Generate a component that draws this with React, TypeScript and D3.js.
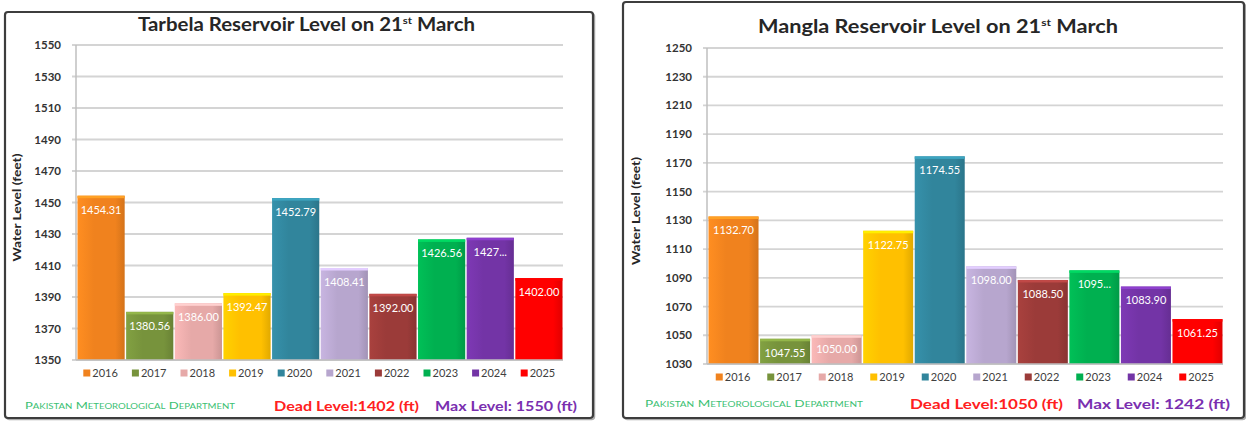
import React from "react";
import * as d3 from "d3";

const years = ["2016", "2017", "2018", "2019", "2020", "2021", "2022", "2023", "2024", "2025"];
const barColors = ["#F0821E", "#77933C", "#E6A9A8", "#FFC000", "#31859C", "#B7A6CE", "#9B3B39", "#00B050", "#7334A6", "#FF0000"];

const tarbelaValues = [1454.31, 1380.56, 1386.0, 1392.47, 1452.79, 1408.41, 1392.0, 1426.56, 1427.6, 1402.0];
const tarbelaLabels = ["1454.31", "1380.56", "1386.00", "1392.47", "1452.79", "1408.41", "1392.00", "1426.56", "1427...", "1402.00"];
const tarbelaTicks = [1350, 1370, 1390, 1410, 1430, 1450, 1470, 1490, 1510, 1530, 1550];

const manglaValues = [1132.7, 1047.55, 1050.0, 1122.75, 1174.55, 1098.0, 1088.5, 1095.2, 1083.9, 1061.25];
const manglaLabels = ["1132.70", "1047.55", "1050.00", "1122.75", "1174.55", "1098.00", "1088.50", "1095...", "1083.90", "1061.25"];
const manglaTicks = [1030, 1050, 1070, 1090, 1110, 1130, 1150, 1170, 1190, 1210, 1230, 1250];

const FONT = "Lato, 'Open Sans', sans-serif";

type PanelProps = {
  id: string;
  box: [number, number, number, number];
  title: string;
  titleX: [number, number];
  titleY: number;
  values: number[];
  labels: string[];
  ticks: number[];
  plotX: [number, number];
  plotY: [number, number];
  legendY: number;
  axisTitleX: number;
  footerY: number;
  credit: [number, number];
  dead: string;
  deadX: [number, number];
  max: string;
  maxX: [number, number];
};

function Panel(p: PanelProps) {
  const [bx0, by0, bx1, by1] = p.box;
  const x = d3.scaleBand<string>().domain(years).range(p.plotX).paddingInner(0.03).paddingOuter(0.01);
  const y = d3.scaleLinear().domain([p.ticks[0], p.ticks[p.ticks.length - 1]]).range(p.plotY);
  const bottom = y(p.ticks[0]);
  const plotW = p.plotX[1] - p.plotX[0];
  const step = plotW / years.length;
  const itemW = 36;
  const legendStart = p.plotX[0] + (plotW - (step * (years.length - 1) + itemW)) / 2;
  const axisCenter = (p.plotY[0] + p.plotY[1]) / 2 + 5;
  return (
    <g>
      <defs>
        {barColors.map((c, i) => {
          const col = d3.color(c)!;
          return (
            <linearGradient key={i} id={`${p.id}-g${i}`} x1="0" x2="1" y1="0" y2="0">
              <stop offset="0" stopColor={col.brighter(0.25).formatHex()} />
              <stop offset="0.35" stopColor={c} />
              <stop offset="0.8" stopColor={c} />
              <stop offset="1" stopColor={col.darker(0.35).formatHex()} />
            </linearGradient>
          );
        })}
      </defs>
      <rect x={bx0 + 1.5} y={by0 + 1.5} width={bx1 - bx0} height={by1 - by0} rx={3} fill="none" stroke="#aaa" strokeWidth={1.5} />
      <rect x={bx0} y={by0} width={bx1 - bx0} height={by1 - by0} rx={3} fill="#fff" stroke="#3d3d3d" strokeWidth={2.2} />
      {/* title */}
      <text
        x={p.titleX[0]}
        y={p.titleY}
        fontFamily={FONT}
        fontWeight={700}
        fontSize={18}
        fill="#262626"
        textLength={p.titleX[1] - p.titleX[0]}
        lengthAdjust="spacingAndGlyphs"
      >
        {p.title}
        <tspan fontSize={10} dy={-7}>st</tspan>
        <tspan dy={7}> March</tspan>
      </text>
      {/* grid */}
      {p.ticks.map((t) => (
        <g key={t}>
          <line x1={p.plotX[0] - 5} x2={p.plotX[1]} y1={y(t)} y2={y(t)} stroke="#d4d4d4" strokeWidth={1.8} />
          <text x={p.plotX[0] - 16} y={y(t)} dy="0.35em" textAnchor="end" fontFamily={FONT} fontWeight={700} fontSize={11.5} fill="#333">
            {t}
          </text>
        </g>
      ))}
      <line x1={p.plotX[0] - 1} x2={p.plotX[0] - 1} y1={p.plotY[1]} y2={bottom} stroke="#bfbfbf" strokeWidth={1.5} />
      {/* axis title */}
      <text
        transform={`translate(${p.axisTitleX},${axisCenter}) rotate(-90)`}
        textAnchor="middle"
        fontFamily={FONT}
        fontWeight={700}
        fontSize={11}
        fill="#262626"
        textLength={108}
        lengthAdjust="spacingAndGlyphs"
      >
        Water Level  (feet)
      </text>
      {/* bars */}
      {years.map((yr, i) => {
        const bx = x(yr)!;
        const top = y(p.values[i]);
        const col = d3.color(barColors[i])!;
        return (
          <g key={yr}>
            <rect x={bx} y={top} width={x.bandwidth()} height={bottom - top} fill={`url(#${p.id}-g${i})`} />
            <rect x={bx} y={top} width={x.bandwidth()} height={2.5} fill={col.brighter(0.6).formatHex()} />
            <text
              x={bx + x.bandwidth() / 2}
              y={top + 14}
              dy="0.35em"
              textAnchor="middle"
              fontFamily={FONT}
              fontSize={11}
              fill="#fff"
            >
              {p.labels[i]}
            </text>
          </g>
        );
      })}
      <line x1={p.plotX[0] - 1} x2={p.plotX[1]} y1={bottom} y2={bottom} stroke="#bfbfbf" strokeWidth={1.5} />
      {/* legend */}
      {years.map((yr, i) => {
        const lx = legendStart + i * step;
        return (
          <g key={yr}>
            <rect x={lx} y={p.legendY - 3.5} width={7} height={7} fill={barColors[i]} />
            <text x={lx + 9} y={p.legendY} dy="0.35em" fontFamily={FONT} fontSize={11} fill="#404040">
              {yr}
            </text>
          </g>
        );
      })}
      {/* footer */}
      <text
        x={p.credit[0]}
        y={p.footerY}
        dy="0.35em"
        fontFamily={FONT}
        fontSize={9.5}
        fill="#3cbf73"
        textLength={p.credit[1] - p.credit[0]}
        lengthAdjust="spacingAndGlyphs"
        style={{ fontVariant: "small-caps" }}
      >
        Pakistan Meteorological Department
      </text>
      <text
        x={p.deadX[0]}
        y={p.footerY}
        dy="0.35em"
        fontFamily={FONT}
        fontWeight={700}
        fontSize={14}
        fill="#ff2020"
        textLength={p.deadX[1] - p.deadX[0]}
        lengthAdjust="spacingAndGlyphs"
      >
        {p.dead}
      </text>
      <text
        x={p.maxX[0]}
        y={p.footerY}
        dy="0.35em"
        fontFamily={FONT}
        fontWeight={700}
        fontSize={14}
        fill="#7a2fb0"
        textLength={p.maxX[1] - p.maxX[0]}
        lengthAdjust="spacingAndGlyphs"
      >
        {p.max}
      </text>
    </g>
  );
}

export default function App() {
  return (
    <svg width={1246} height={421} style={{ position: "absolute", left: 0, top: 0, background: "#fff" }}>
      <Panel
        id="t"
        box={[5, 12, 593, 418]}
        title="Tarbela Reservoir Level on 21"
        titleX={[138, 475]}
        titleY={31}
        values={tarbelaValues}
        labels={tarbelaLabels}
        ticks={tarbelaTicks}
        plotX={[77, 563]}
        plotY={[360, 45]}
        legendY={373}
        axisTitleX={21}
        footerY={406}
        credit={[25, 235]}
        dead="Dead Level:1402 (ft)"
        deadX={[274, 419]}
        max="Max Level: 1550 (ft)"
        maxX={[435, 577]}
      />
      <Panel
        id="m"
        box={[623, 2, 1244, 418]}
        title="Mangla Reservoir Level on 21"
        titleX={[758, 1118]}
        titleY={33}
        values={manglaValues}
        labels={manglaLabels}
        ticks={manglaTicks}
        plotX={[708, 1223]}
        plotY={[364, 48]}
        legendY={377}
        axisTitleX={640}
        footerY={404}
        credit={[645, 863]}
        dead="Dead Level:1050 (ft)"
        deadX={[910, 1063]}
        max="Max Level: 1242 (ft)"
        maxX={[1077, 1230]}
      />
    </svg>
  );
}
